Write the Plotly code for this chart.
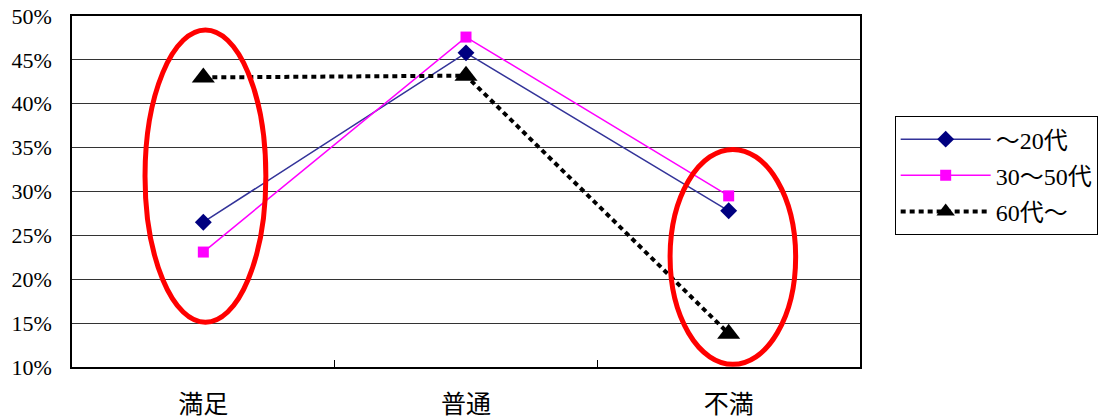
import plotly.graph_objects as go

categories = ["満足", "普通", "不満"]
series_names = ["～20代", "30～50代", "60代～"]
young = [26.5, 45.8, 27.8]
middle = [23.1, 47.6, 29.5]
senior = [43.0, 43.2, 13.8]
y_ticks = [10, 15, 20, 25, 30, 35, 40, 45, 50]
y_tick_text = [f"{v}%" for v in y_ticks]

FONT = "'Liberation Serif', 'Noto Sans CJK JP', serif"

fig = go.Figure()
fig.add_trace(go.Scatter(
    x=categories, y=young, name=series_names[0], mode="lines+markers",
    line=dict(color="#333399", width=1.5),
    marker=dict(symbol="diamond", size=13, color="#000080"),
    legendgroup="a",
))
fig.add_trace(go.Scatter(
    x=categories, y=middle, name=series_names[1], mode="lines+markers",
    line=dict(color="#FF00FF", width=1.5),
    marker=dict(symbol="square", size=11, color="#FF00FF"),
    legendgroup="b",
))
fig.add_trace(go.Scatter(
    x=categories, y=senior, name=series_names[2], mode="lines+markers",
    line=dict(color="#000000", width=4, dash="5px,4px"),
    marker=dict(symbol="triangle-up", size=20, color="#000000"),
    legendgroup="c",
))

# red highlight rings around the first and last category
ring = dict(type="circle", xref="x", yref="y", line=dict(color="#FF0000", width=5))
fig.add_shape(x0=-0.222, x1=0.238, y0=15.1, y1=48.4, **ring)
fig.add_shape(x0=1.777, x1=2.255, y0=10.3, y1=34.8, **ring)

fig.update_layout(
    width=1110, height=418,
    margin=dict(l=72, r=250, t=16, b=51, autoexpand=False),
    paper_bgcolor="white", plot_bgcolor="white",
    font=dict(family=FONT, size=22, color="black"),
    showlegend=True,
    legend=dict(
        x=1.044, y=0.715, xanchor="left", yanchor="top",
        bordercolor="black", borderwidth=1, bgcolor="white",
        font=dict(family=FONT, size=24), itemwidth=90,
        tracegroupgap=2,
    ),
)
fig.update_xaxes(
    type="category", range=[-0.5, 2.5], automargin=False,
    showline=True, linecolor="black", linewidth=1.5, mirror=True,
    showgrid=False, tickson="boundaries", ticks="inside", ticklen=7,
    tickcolor="black", ticklabelstandoff=14,
    tickfont=dict(family=FONT, size=25),
)
fig.update_yaxes(
    range=[10, 50], tickvals=y_ticks, ticktext=y_tick_text, automargin=False,
    showline=True, linecolor="black", linewidth=1.5, mirror=True,
    showgrid=True, gridcolor="#333333", gridwidth=1,
    ticks="", ticklabelstandoff=14, zeroline=False,
    tickfont=dict(family=FONT, size=22),
)

fig.write_html("out.html")
